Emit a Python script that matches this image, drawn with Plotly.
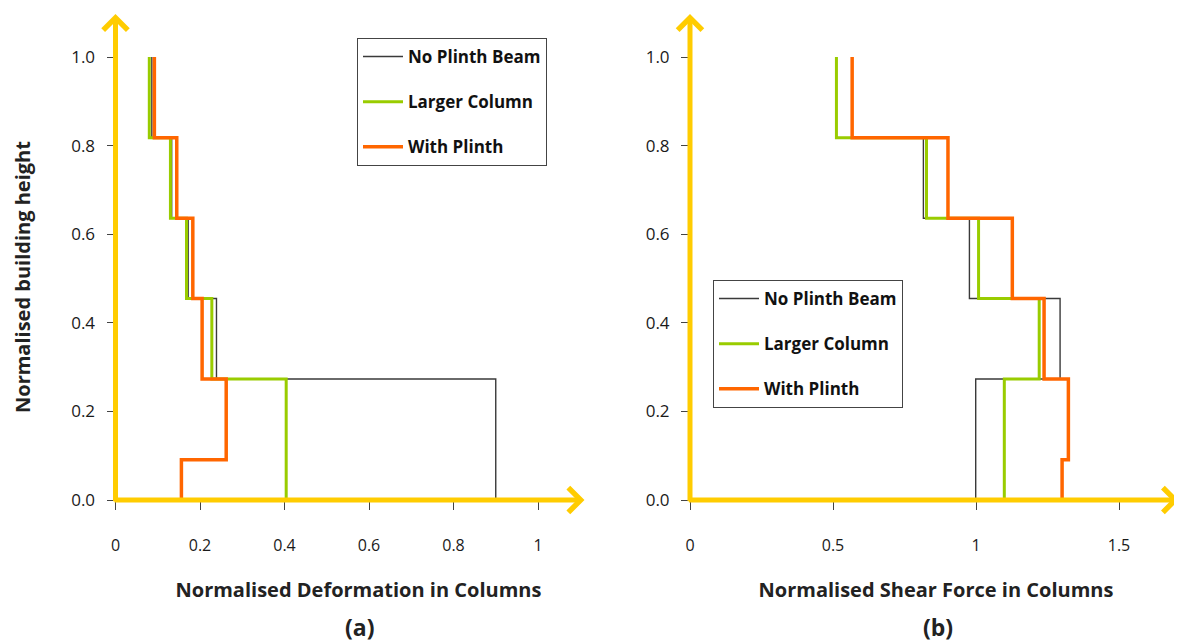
import plotly.graph_objects as go

# Storey boundary levels (normalised building height)
heights = [0.0, 0.091, 0.273, 0.455, 0.636, 0.818, 1.0]

# (a) Normalised deformation in columns, one value per storey segment (bottom -> top)
no_plinth_def = [0.900, 0.900, 0.239, 0.172, 0.133, 0.086]
larger_col_def = [0.404, 0.404, 0.228, 0.168, 0.130, 0.080]
with_plinth_def = [0.156, 0.262, 0.205, 0.183, 0.145, 0.092]

# (b) Normalised shear force in columns
no_plinth_shear = [0.999, 0.999, 1.294, 0.977, 0.816, 0.510]
larger_col_shear = [1.099, 1.099, 1.221, 1.009, 0.827, 0.512]
with_plinth_shear = [1.301, 1.323, 1.238, 1.127, 0.902, 0.567]

series_names = ["No Plinth Beam", "Larger Column", "With Plinth"]
colors = ["#3a3a3a", "#99CC00", "#FF6600"]
widths = [1.4, 3, 3.5]

left_xticks = [0, 0.2, 0.4, 0.6, 0.8, 1]
left_xlabels = ["0", "0.2", "0.4", "0.6", "0.8", "1"]
right_xticks = [0, 0.5, 1, 1.5]
right_xlabels = ["0", "0.5", "1", "1.5"]
yticks = [0.0, 0.2, 0.4, 0.6, 0.8, 1.0]

FONT = "Open Sans"
AXIS_YELLOW = "#FFCC00"


def step_xy(vals):
    xs = list(vals) + [vals[-1]]
    ys = list(heights)
    return xs, ys


fig = go.Figure()

for vals, name, col, w in zip([no_plinth_def, larger_col_def, with_plinth_def], series_names, colors, widths):
    xs, ys = step_xy(vals)
    fig.add_trace(go.Scatter(x=xs, y=ys, mode="lines", line=dict(color=col, width=w, shape="vh"),
                             name=name, xaxis="x", yaxis="y", legend="legend", legendgroup="a" + name))

for vals, name, col, w in zip([no_plinth_shear, larger_col_shear, with_plinth_shear], series_names, colors, widths):
    xs, ys = step_xy(vals)
    fig.add_trace(go.Scatter(x=xs, y=ys, mode="lines", line=dict(color=col, width=w, shape="vh"),
                             name=name, xaxis="x2", yaxis="y2", legend="legend2", legendgroup="b" + name))

W, H = 1182, 641
OFF = 8  # page body margin
y0_px, ytop_px = 500 - OFF, 500 - OFF - 1.1 * 443
ydom = [(H - y0_px) / H, (H - ytop_px) / H]

common_y = dict(range=[0, 1.1], tickvals=yticks, tickformat=".1f", showgrid=False, zeroline=False,
                showline=False, ticks="outside", ticklen=8, tickcolor="#444", tickwidth=1,
                ticklabelstandoff=8,
                tickfont=dict(family=FONT, size=17, color="#1a1a1a"), domain=ydom)

xl0 = 115.5 - OFF
xr0 = 690 - OFF

legend_common = dict(xanchor="left", yanchor="top", bgcolor="white", bordercolor="#444", borderwidth=1,
                     font=dict(family=FONT, size=17, color="#111", weight="bold"),
                     tracegroupgap=20, traceorder="grouped", itemwidth=40)

fig.update_layout(
    width=W, height=H,
    margin=dict(l=0, r=0, t=0, b=0, autoexpand=False),
    paper_bgcolor="white", plot_bgcolor="white",
    showlegend=True,
    xaxis=dict(domain=[xl0 / W, (xl0 + 1.15 * 422.5) / W], range=[0, 1.15],
               tickvals=left_xticks, ticktext=left_xlabels,
               showgrid=False, zeroline=False, showline=False, ticks="outside", ticklen=9,
               tickcolor="#444", ticklabelstandoff=22,
               tickfont=dict(family=FONT, size=16, color="#1a1a1a"),
               title=dict(text="<b>Normalised Deformation in Columns</b>", standoff=27,
                          font=dict(family=FONT, size=20, color="#222")),
               anchor="y"),
    yaxis=dict(anchor="x", **common_y),
    xaxis2=dict(domain=[xr0 / W, (xr0 + 1.72 * 286) / W], range=[0, 1.72],
                tickvals=right_xticks, ticktext=right_xlabels,
                showgrid=False, zeroline=False, showline=False, ticks="outside", ticklen=9,
                tickcolor="#444", ticklabelstandoff=22,
                tickfont=dict(family=FONT, size=16, color="#1a1a1a"),
                title=dict(text="<b>Normalised Shear Force in Columns</b>", standoff=27,
                           font=dict(family=FONT, size=20, color="#222")),
                anchor="y2"),
    yaxis2=dict(anchor="x2", **common_y),
    legend=dict(x=(357 - OFF) / W, y=(H - 38 + OFF) / H, **legend_common),
    legend2=dict(x=(713 - OFF) / W, y=(H - 280 + OFF) / H, **legend_common),
)

arrow = dict(text="", showarrow=True, arrowhead=4, arrowsize=0.95, arrowwidth=5,
             arrowcolor=AXIS_YELLOW, standoff=0, startstandoff=0)
annotations = [
    dict(xref="x", yref="y", axref="x", ayref="y", x=1.11, y=0, ax=-0.006, ay=0, **arrow),
    dict(xref="x", yref="y", axref="x", ayref="y", x=0, y=1.097, ax=0, ay=-0.006, **arrow),
    dict(xref="x2", yref="y2", axref="x2", ayref="y2", x=1.71, y=0, ax=-0.009, ay=0, **arrow),
    dict(xref="x2", yref="y2", axref="x2", ayref="y2", x=0, y=1.097, ax=0, ay=-0.006, **arrow),
    dict(xref="paper", yref="paper", x=(22 - OFF) / W, y=(H - 277 + OFF) / H,
         xanchor="center", yanchor="middle",
         text="<b>Normalised building height</b>",
         textangle=-90, showarrow=False, font=dict(family=FONT, size=20, color="#222")),
    dict(xref="paper", yref="paper", x=(359 - OFF) / W, y=(H - 627 + OFF) / H, text="<b>(a)</b>",
         xanchor="center", yanchor="middle",
         showarrow=False, font=dict(family=FONT, size=23, color="#222")),
    dict(xref="paper", yref="paper", x=(938 - OFF) / W, y=(H - 627 + OFF) / H, text="<b>(b)</b>",
         xanchor="center", yanchor="middle",
         showarrow=False, font=dict(family=FONT, size=23, color="#222")),
]
fig.update_layout(annotations=annotations)

fig.write_html("out.html")
